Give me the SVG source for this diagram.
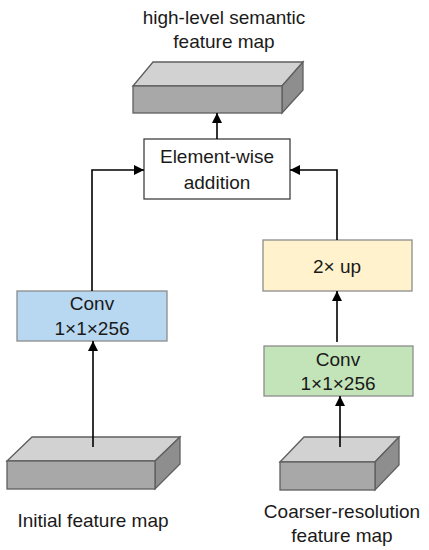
<svg xmlns="http://www.w3.org/2000/svg" width="429" height="550" viewBox="0 0 429 550">
<defs>
<marker id="ah" viewBox="0 0 10 10" refX="10" refY="5" markerWidth="10" markerHeight="10" markerUnits="userSpaceOnUse" orient="auto">
<path d="M0,0 L10,5 L0,10 z" fill="#000"/>
</marker>
<style>
text{font-family:"Liberation Sans",Arial,sans-serif;font-size:19px;fill:#1a1a1a;text-anchor:middle}
.top{fill:#d2d2d2;stroke:#5f5f5f;stroke-width:1.3}
.front{fill:#a8a8a8;stroke:#5f5f5f;stroke-width:1.3}
.side{fill:#8e8e8e;stroke:#5f5f5f;stroke-width:1.3}
.box{stroke:#8c8c8c;stroke-width:1.3}
.conn{fill:none;stroke:#000;stroke-width:1.6;marker-end:url(#ah)}
</style>
</defs>
<rect width="429" height="550" fill="#fff"/>

<g id="top-map">
<polygon class="top" points="133,86 153,62 303,62 282,86"/>
<polygon class="side" points="282,86 303,62 303,90 282,113"/>
<rect class="front" x="133" y="86" width="149" height="27"/>
<text x="224" y="24">high-level semantic</text>
<text x="224" y="48">feature map</text>
</g>

<g id="addition">
<rect x="144" y="139" width="146" height="60" fill="#fff" stroke="#404040" stroke-width="1.3"/>
<text x="217" y="163">Element-wise</text>
<text x="217" y="189">addition</text>
</g>

<g id="conv-left">
<rect class="box" x="17" y="291" width="150" height="50" fill="#b7d8f0"/>
<text x="92" y="310">Conv</text>
<text x="92" y="335">1×1×256</text>
</g>

<g id="initial-map">
<polygon class="top" points="7,461 32,437 180,437 155,461"/>
<polygon class="side" points="155,461 180,437 180,464 155,489"/>
<rect class="front" x="7" y="461" width="148" height="28"/>
<text x="93" y="527">Initial feature map</text>
</g>

<g id="up">
<rect class="box" x="263" y="240" width="149" height="51" fill="#fff2cc"/>
<text x="337" y="273">2× up</text>
</g>

<g id="conv-right">
<rect class="box" x="264" y="346" width="149" height="50" fill="#c2e4b8"/>
<text x="338" y="366">Conv</text>
<text x="338" y="390">1×1×256</text>
</g>

<g id="coarse-map">
<polygon class="top" points="280,462 304,437 399,437 375,462"/>
<polygon class="side" points="375,462 399,437 399,465 375,490"/>
<rect class="front" x="280" y="462" width="95" height="28"/>
<text x="342" y="518">Coarser-resolution</text>
<text x="342" y="542">feature map</text>
</g>

<g id="connectors">
<line class="conn" x1="217" y1="139" x2="217" y2="113"/>
<polyline class="conn" points="92,291 92,170 144,170"/>
<polyline class="conn" points="337,240 337,170 290,170"/>
<line class="conn" x1="93" y1="447" x2="93" y2="341"/>
<line class="conn" x1="337" y1="342" x2="337" y2="291"/>
<line class="conn" x1="340" y1="447" x2="340" y2="396"/>
</g>
</svg>
